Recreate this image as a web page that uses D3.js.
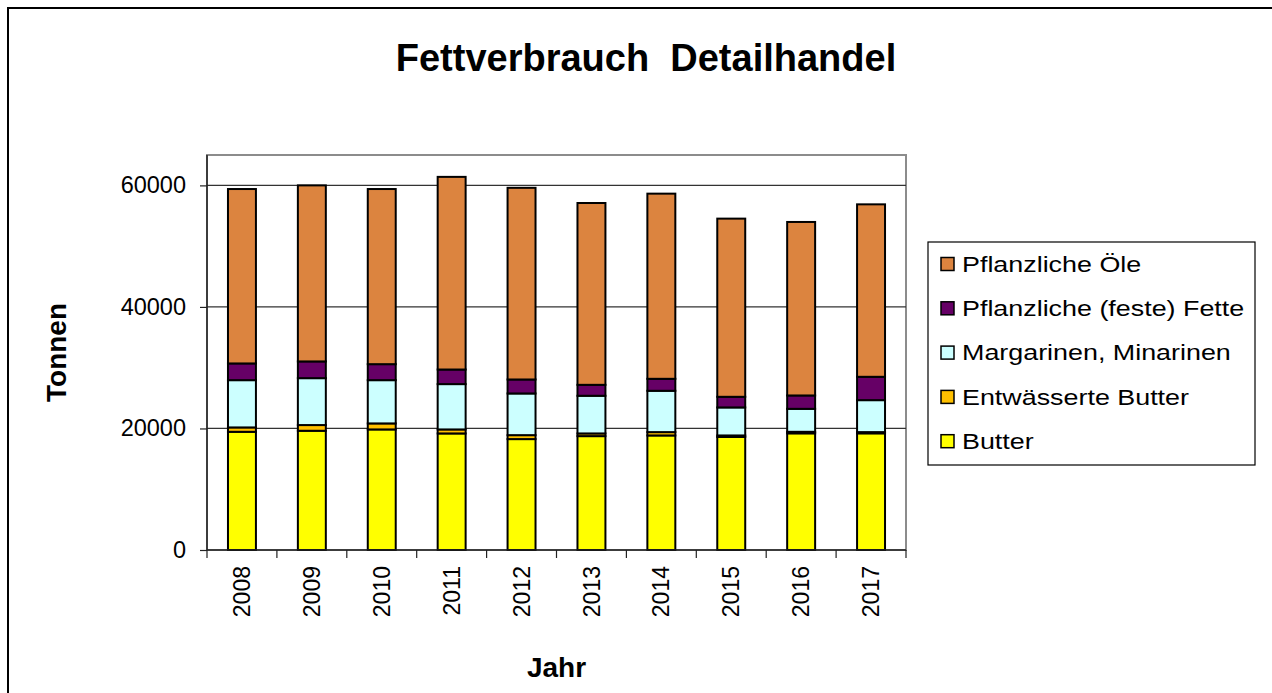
<!DOCTYPE html>
<html><head><meta charset="utf-8">
<script src="https://cdn.jsdelivr.net/npm/d3@7"></script>
<style>body{margin:0;background:#fff}svg{display:block;font-family:"Liberation Sans",Arial,sans-serif}</style>
</head><body>
<svg id="c" width="1272" height="693"></svg>
<script>
const years = ["2008","2009","2010","2011","2012","2013","2014","2015","2016","2017"];
const butter     = [19450,19620,19840,19180,18250,18740,18850,18600,19200,19200];
const entwButter = [720,940,990,660,650,440,550,250,250,200];
const margarine  = [7780,7720,7120,7460,6860,6200,6800,4610,3780,5260];
const festeFette = [2750,2750,2630,2400,2300,1800,1970,1750,2200,3840];
const oele       = [28700,28970,28820,31700,31540,29920,30470,29320,28550,28380];
const seriesNames = ["Butter","Entwässerte Butter","Margarinen, Minarinen","Pflanzliche (feste) Fette","Pflanzliche Öle"];
const seriesColors = ["#FFFF00","#FFC000","#CCFFFF","#660066","#DC843F"];
const yTicks = [0,20000,40000,60000];

const seriesValues = [butter, entwButter, margarine, festeFette, oele];
const rows = years.map((y,i)=>{const o={year:y}; seriesNames.forEach((n,k)=>o[n]=seriesValues[k][i]); return o;});
const stack = d3.stack().keys(seriesNames)(rows);

const svg = d3.select("#c");
const L=207,R=906,T=155,B=550;
const x = d3.scaleBand().domain(years).range([L,R]).paddingInner(0.6).paddingOuter(0.3);
const y = d3.scaleLinear().domain([0,65000]).range([B,T]);

// outer chart border (left/top only visible)
svg.append("rect").attr("x",8).attr("y",8).attr("width",1300).attr("height",720)
  .attr("fill","none").attr("stroke","#000").attr("stroke-width",2);

// title
svg.append("text").attr("x",646).attr("y",71).attr("text-anchor","middle")
  .style("white-space","pre")
  .attr("font-size",38).attr("font-weight","bold").text("Fettverbrauch  Detailhandel");

// plot area border
svg.append("rect").attr("x",L).attr("y",T).attr("width",R-L).attr("height",B-T)
  .attr("fill","none").attr("stroke","#8c8c8c").attr("stroke-width",2);

// gridlines
svg.append("g").selectAll("line").data(yTicks.filter(d=>d>0)).join("line")
  .attr("x1",L).attr("x2",R).attr("y1",d=>y(d)).attr("y2",d=>y(d))
  .attr("stroke","#333").attr("stroke-width",1.2);

// bars
const g = svg.append("g");
stack.forEach((s,k)=>{
  g.append("g").selectAll("rect").data(s).join("rect")
    .attr("x",d=>x(d.data.year)).attr("width",x.bandwidth())
    .attr("y",d=>y(d[1])).attr("height",d=>y(d[0])-y(d[1]))
    .attr("fill",seriesColors[k]).attr("stroke","#000").attr("stroke-width",2);
});

// y axis
const yAxis = svg.append("g").attr("transform",`translate(${L},0)`)
  .call(d3.axisLeft(y).tickValues(yTicks).tickSize(7).tickPadding(14).tickFormat(d3.format("d")));
yAxis.select(".domain").attr("stroke","#222").attr("stroke-width",1.5).attr("d",`M0,${B}V${T}`);
yAxis.selectAll(".tick line").attr("stroke","#222").attr("stroke-width",1.2);
yAxis.selectAll("text").attr("font-size",23.5).attr("fill","#000").attr("font-family","Liberation Sans, Arial, sans-serif");

// x axis
const step = x.step(), off = (step - x.bandwidth())/2;
const xa = svg.append("g");
xa.append("line").attr("x1",L).attr("x2",R).attr("y1",B).attr("y2",B).attr("stroke","#222").attr("stroke-width",1.5);
const bounds = years.map(d=>x(d)-off).concat([x(years[years.length-1])+x.bandwidth()+off]);
xa.selectAll("line.t").data(bounds).join("line").attr("class","t")
  .attr("x1",d=>d).attr("x2",d=>d).attr("y1",B).attr("y2",B+8).attr("stroke","#222").attr("stroke-width",1.2);
xa.selectAll("text").data(years).join("text")
  .attr("transform",d=>`translate(${x(d)+x.bandwidth()/2},566) rotate(-90)`)
  .attr("text-anchor","end").attr("dy","0.35em").attr("font-size",23).text(d=>d);

// axis titles
svg.append("text").attr("transform",`translate(66,${(T+B)/2}) rotate(-90)`)
  .attr("text-anchor","middle").attr("font-size",28).attr("font-weight","bold").text("Tonnen");
svg.append("text").attr("x",(L+R)/2).attr("y",677).attr("text-anchor","middle")
  .attr("font-size",28).attr("font-weight","bold").text("Jahr");

// legend
const lg = svg.append("g");
lg.append("rect").attr("x",928).attr("y",242).attr("width",327).attr("height",223)
  .attr("fill","#fff").attr("stroke","#000").attr("stroke-width",1.2);
const legendOrder = [4,3,2,1,0];
legendOrder.forEach((k,i)=>{
  const cy = 264 + i*44.3;
  lg.append("rect").attr("x",941).attr("y",cy-6.5).attr("width",13).attr("height",13)
    .attr("fill",seriesColors[k]).attr("stroke","#000").attr("stroke-width",1.5);
  lg.append("text").attr("transform",`translate(962,${cy+7.8}) scale(1.25,1)`)
    .attr("font-size",21.5).text(seriesNames[k]);
});
</script>
</body></html>
